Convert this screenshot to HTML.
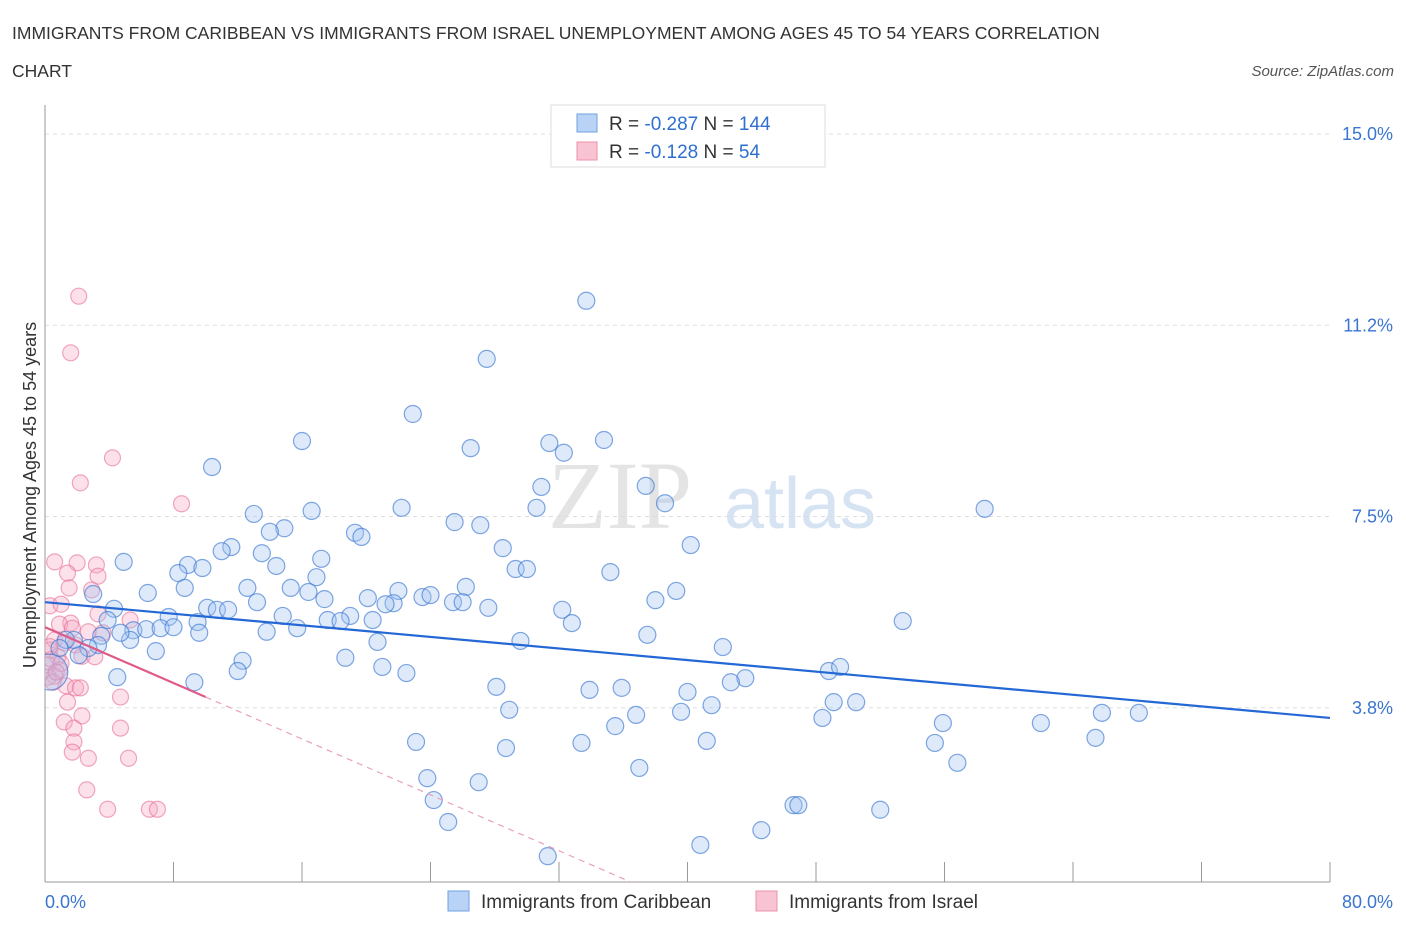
<!DOCTYPE html>
<html><head><meta charset="utf-8">
<style>
body{margin:0;background:#fff;font-family:"Liberation Sans",sans-serif;}
#wrap{position:relative;width:1406px;height:930px;overflow:hidden;}
</style></head>
<body>
<div id="wrap">
<svg id="chart" width="1406" height="930">
  <text x="12" y="39" font-size="17.5" fill="#333">IMMIGRANTS FROM CARIBBEAN VS IMMIGRANTS FROM ISRAEL UNEMPLOYMENT AMONG AGES 45 TO 54 YEARS CORRELATION</text>
  <text x="12" y="77" font-size="17.5" fill="#333">CHART</text>
  <text x="1394" y="76" font-size="15" fill="#555" font-style="italic" text-anchor="end">Source: ZipAtlas.com</text>
  <text x="620" y="528" font-size="96" fill="#e4e4e4" font-family="Liberation Serif,serif" text-anchor="middle">ZIP</text>
  <text x="800" y="528" font-size="72" fill="#d5e3f3" text-anchor="middle">atlas</text>
  <g id="grid"></g>
  <g id="axes"></g>
  <defs><clipPath id="pc"><rect x="45" y="100" width="1300" height="782"/></clipPath></defs>
  <g id="marks" clip-path="url(#pc)"></g>
  <text x="36" y="495" font-size="18" fill="#333" text-anchor="middle" transform="rotate(-90 36 495)">Unemployment Among Ages 45 to 54 years</text>
  <g>
    <rect x="551" y="105" width="274" height="62" fill="#fff" stroke="#ddd"/>
    <rect x="577" y="114" width="20" height="18" fill="#b8d3f5" stroke="#6fa0e0"/>
    <rect x="577" y="142" width="20" height="18" fill="#f8c3d2" stroke="#ee91ab"/>
    <text x="609" y="130" font-size="19" fill="#333">R = <tspan fill="#2f6fd0">-0.287</tspan>   N = <tspan fill="#2f6fd0">144</tspan></text>
    <text x="609" y="158" font-size="19" fill="#333">R =  <tspan fill="#2f6fd0">-0.128</tspan>   N =  <tspan fill="#2f6fd0"> 54</tspan></text>
  </g>
  <g>
    <rect x="448" y="891" width="21" height="20" fill="#b8d3f5" stroke="#6fa0e0"/>
    <text x="481" y="908" font-size="19" fill="#333">Immigrants from Caribbean</text>
    <rect x="756" y="891" width="21" height="20" fill="#f8c3d2" stroke="#ee91ab"/>
    <text x="789" y="908" font-size="19" fill="#333">Immigrants from Israel</text>
  </g>
</svg>
</div>
<script>
const yTicks=[15.0,11.25,7.5,3.75];
const yTickLabels=["15.0%","11.2%","7.5%","3.8%"];
const xTickVals=[0,8,16,24,32,40,48,56,64,72,80];
const xEndLabels=["0.0%","80.0%"];
const caribX=[33.7,27.5,22.9,16.0,26.5,31.4,32.3,34.8,10.4,30.9,37.4,22.2,30.6,38.6,13.0,16.6,58.5,25.5,27.1,14.9,14.0,19.3,19.7,11.6,11.0,40.2,28.5,13.5,17.2,4.9,8.9,9.8,14.4,29.3,30.0,35.2,16.9,8.3,8.7,12.6,15.3,16.4,22.0,26.2,39.3,6.4,3.0,20.1,21.7,23.5,24.0,17.4,25.4,26.0,38.0,13.2,21.2,4.3,10.1,10.7,11.4,27.6,32.2,7.7,19.0,14.8,17.6,18.4,20.4,53.4,3.9,32.8,9.5,13.8,15.7,5.5,5.3,6.3,7.2,8.0,9.6,37.5,3.5,4.7,29.6,3.3,2.7,2.1,1.8,1.3,0.9,6.9,20.7,42.2,12.3,12.0,18.7,21.0,22.5,48.8,49.5,4.5,9.3,43.6,42.7,28.1,33.9,35.9,40.0,28.9,36.8,39.6,41.5,49.1,50.5,35.5,48.4,55.9,62.0,65.8,68.1,23.1,41.2,33.4,28.7,55.4,65.4,23.8,27.0,37.0,56.8,24.2,46.6,46.9,52.0,25.1,44.6,40.8,31.3,0.3];
const caribY=[11.73,10.59,9.51,8.98,8.84,8.94,8.75,9.00,8.47,8.08,8.10,7.67,7.67,7.76,7.55,7.61,7.65,7.39,7.33,7.27,7.20,7.18,7.10,6.90,6.82,6.94,6.88,6.78,6.67,6.61,6.55,6.49,6.53,6.47,6.47,6.41,6.31,6.39,6.10,6.10,6.10,6.02,6.04,6.12,6.04,6.00,5.98,5.90,5.80,5.92,5.96,5.88,5.82,5.82,5.86,5.82,5.78,5.69,5.71,5.67,5.67,5.71,5.67,5.53,5.55,5.55,5.47,5.45,5.47,5.45,5.47,5.41,5.43,5.24,5.31,5.27,5.08,5.29,5.31,5.33,5.22,5.18,5.16,5.22,5.06,4.98,4.92,4.78,5.08,5.08,4.92,4.86,5.04,4.94,4.67,4.47,4.73,4.55,4.43,4.47,4.55,4.35,4.25,4.33,4.25,4.16,4.10,4.14,4.06,3.71,3.61,3.67,3.80,3.86,3.86,3.39,3.55,3.45,3.45,3.65,3.65,3.08,3.10,3.06,2.96,3.06,3.16,2.37,2.29,2.57,2.67,1.94,1.84,1.84,1.75,1.51,1.35,1.06,0.84,4.45];
const caribSize=[]; caribSize[caribX.length-1]=18;
const israelX=[2.1,1.6,4.2,2.2,8.5,0.6,2.0,3.2,1.4,3.3,1.5,2.9,0.3,1.0,5.3,1.6,0.9,1.7,2.7,3.6,0.6,1.2,0.3,1.9,0.8,2.3,3.1,0.2,0.9,0.6,1.3,1.9,2.2,4.7,1.4,2.3,1.2,4.7,1.8,1.8,1.7,2.7,5.2,2.6,3.9,6.5,7.0,3.3,0.4,0.2,0.5,1.0,0.3,0.7];
const israelY=[11.82,10.71,8.65,8.16,7.75,6.61,6.59,6.55,6.39,6.33,6.10,6.06,5.75,5.78,5.47,5.41,5.39,5.31,5.24,5.22,5.08,5.02,4.88,4.98,4.75,4.76,4.75,4.59,4.49,4.37,4.18,4.14,4.14,3.96,3.86,3.59,3.47,3.35,3.35,3.08,2.88,2.76,2.76,2.14,1.76,1.76,1.76,5.59,4.70,4.35,4.25,4.62,4.95,4.45];
const caribTrend=[5.82,3.55];
const israelTrend=[5.33,-0.137];

const X0=45,X1=1330,Y0=134,YPX=51;
function sx(v){return X0+(X1-X0)*v/80;}
function sy(v){return Y0+(15-v)*YPX;}
const NS="http://www.w3.org/2000/svg";
function mk(tag,attrs,parent){const e=document.createElementNS(NS,tag);for(const k in attrs)e.setAttribute(k,attrs[k]);parent.appendChild(e);return e;}
const grid=document.getElementById('grid'),axes=document.getElementById('axes'),marks=document.getElementById('marks'),svg=document.getElementById('chart');
yTicks.forEach((t,i)=>{
  const l=mk('line',{x1:X0,x2:X1,y1:sy(t),y2:sy(t),stroke:'#ddd','stroke-dasharray':'4,4'},grid);
  
  
  const tx=mk('text',{x:1393,y:sy(t)+6,'font-size':18,fill:'#3a75d0','text-anchor':'end'},axes);
  tx.textContent=yTickLabels[i];
  
  
});
const ya=mk('line',{x1:X0,x2:X0,y1:105,y2:882,stroke:'#999'},axes);


const xa=mk('line',{x1:X0,x2:X1,y1:882,y2:882,stroke:'#999'},axes);


xTickVals.forEach(v=>{
  const t=mk('line',{x1:sx(v),x2:sx(v),y1:862,y2:882,stroke:'#999'},axes);
  
  
});
const xl0=mk('text',{x:45,y:908,'font-size':18,fill:'#3a75d0'},axes);
xl0.textContent=xEndLabels[0];


const xl1=mk('text',{x:1393,y:908,'font-size':18,fill:'#3a75d0','text-anchor':'end'},axes);
xl1.textContent=xEndLabels[1];



israelX.forEach((x,i)=>{
  const c=mk('circle',{cx:sx(x),cy:sy(israelY[i]),r:8,fill:'rgba(246,170,195,0.35)',stroke:'rgba(232,110,150,0.6)','stroke-width':1.2},marks);
  
  
});
caribX.forEach((x,i)=>{
  const c=mk('circle',{cx:sx(x),cy:sy(caribY[i]),r:caribSize[i]||8.5,fill:'rgba(160,195,240,0.35)',stroke:'rgba(60,120,210,0.65)','stroke-width':1.2},marks);
  
  
});
const bt=mk('line',{x1:sx(0),y1:sy(caribTrend[0]),x2:sx(80),y2:sy(caribTrend[1]),stroke:'#2468d6','stroke-width':2.2},marks);


const pEnd=(0.33-israelTrend[0])/israelTrend[1];
const pt=mk('line',{x1:sx(0),y1:sy(israelTrend[0]),x2:sx(10),y2:sy(israelTrend[0]+israelTrend[1]*10),stroke:'#e05a88','stroke-width':2.2},marks);


const pd=mk('line',{x1:sx(10),y1:sy(israelTrend[0]+israelTrend[1]*10),x2:sx(pEnd),y2:sy(israelTrend[0]+israelTrend[1]*pEnd),stroke:'#eaa0b8','stroke-width':1.2,'stroke-dasharray':'6,5'},marks);


</script>
</body></html>
